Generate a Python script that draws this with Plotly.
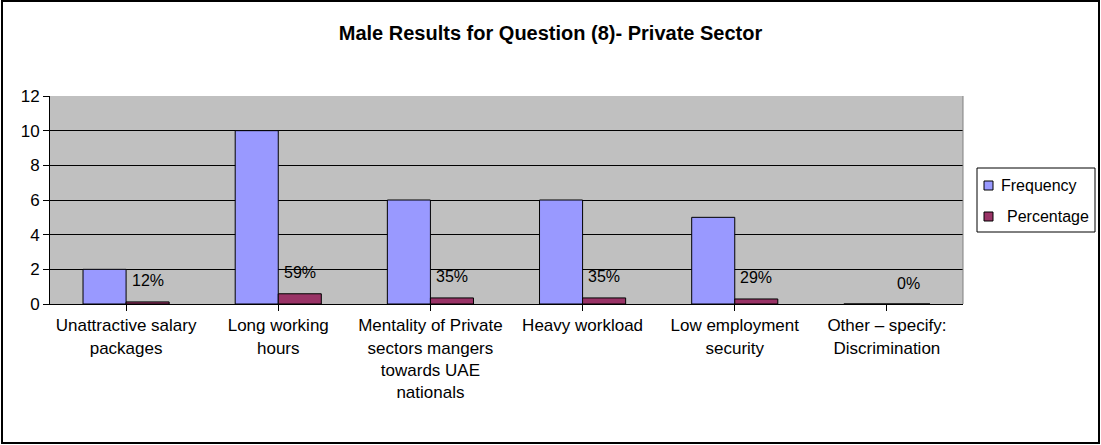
import plotly.graph_objects as go

# Data
categories = [
    "Unattractive salary<br>packages",
    "Long working<br>hours",
    "Mentality of Private<br>sectors mangers<br>towards UAE<br>nationals",
    "Heavy workload",
    "Low employment<br>security",
    "Other – specify:<br>Discrimination",
]
frequency = [2, 10, 6, 6, 5, 0]
percentage = [0.12, 0.59, 0.35, 0.35, 0.29, 0.0]
pct_labels = ["12%", "59%", "35%", "35%", "29%", "0%"]
y_ticks = [0, 2, 4, 6, 8, 10, 12]

W, H = 1101, 445
L, R, T, B = 50, 963, 96, 304  # plot area in pixels

FONT = "Liberation Sans, Arial, sans-serif"
FREQ_COLOR = "#9999FF"
PCT_COLOR = "#993366"


def px_x(px):
    return (px - L) / (R - L)


def px_y(py):
    return (B - py) / (B - T)


fig = go.Figure()

fig.add_trace(go.Bar(
    x=list(range(len(categories))),
    y=frequency,
    name="Frequency",
    marker=dict(color=FREQ_COLOR, line=dict(color="black", width=1)),
))
fig.add_trace(go.Bar(
    x=list(range(len(categories))),
    y=percentage,
    name="Percentage",
    marker=dict(color=PCT_COLOR, line=dict(color="black", width=1)),
))

# Percentage labels above the percentage bars
for i, (v, lab) in enumerate(zip(percentage, pct_labels)):
    fig.add_annotation(
        x=i + 0.1415, y=v, xref="x", yref="y",
        text=lab, showarrow=False, yanchor="middle", yshift=21,
        font=dict(family=FONT, size=16, color="black"),
    )

# Outer chart border and right edge of plot area
fig.add_shape(type="rect", xref="paper", yref="paper",
              x0=px_x(2), x1=px_x(1099), y0=px_y(443), y1=px_y(1),
              line=dict(color="black", width=2), layer="above")
fig.add_shape(type="line", xref="paper", yref="paper",
              x0=1, x1=1, y0=0, y1=1,
              line=dict(color="#808080", width=1))

# Legend box (drawn by hand to get the Excel-like compact layout)
fig.add_shape(type="rect", xref="paper", yref="paper",
              x0=px_x(977), x1=px_x(1095), y0=px_y(232), y1=px_y(168),
              line=dict(color="black", width=1), fillcolor="white")
legend_items = [("Frequency", FREQ_COLOR, 185, 999),
                ("Percentage", PCT_COLOR, 216, 1005)]
for name, color, cy, tx in legend_items:
    fig.add_shape(type="rect", xref="paper", yref="paper",
                  x0=px_x(984), x1=px_x(993), y0=px_y(cy + 5), y1=px_y(cy - 4),
                  line=dict(color="black", width=1), fillcolor=color)
    fig.add_annotation(x=px_x(tx), y=px_y(cy), xref="paper", yref="paper",
                       text=name, showarrow=False, xanchor="left", yanchor="middle",
                       font=dict(family=FONT, size=16, color="black"))

fig.update_layout(
    width=W, height=H,
    autosize=False,
    margin=dict(l=L, r=W - R, t=T, b=H - B),
    paper_bgcolor="white",
    plot_bgcolor="#C0C0C0",
    barmode="group",
    bargap=0.434,
    bargroupgap=0,
    font=dict(family=FONT, size=17, color="black"),
    title=dict(
        text="<b>Male Results for Question (8)- Private Sector</b>",
        x=0.5, xref="container", y=1 - 33 / H, yanchor="middle",
        font=dict(family=FONT, size=20, color="black"),
    ),
    showlegend=False,
)

fig.update_xaxes(
    tickmode="array",
    tickvals=list(range(len(categories))),
    ticktext=categories,
    range=[-0.5, len(categories) - 0.5],
    showgrid=False,
    showline=True, linecolor="black", linewidth=1,
    ticks="outside", ticklen=6, tickcolor="black",
    tickson="boundaries",
    tickangle=0,
    tickfont=dict(family=FONT, size=17, color="black"),
    zeroline=False,
)

fig.update_yaxes(
    range=[0, 12],
    tickvals=y_ticks,
    showgrid=True, gridcolor="black", gridwidth=1,
    showline=True, linecolor="black", linewidth=1,
    ticks="outside", ticklen=6, tickcolor="black",
    tickfont=dict(family=FONT, size=17, color="black"),
    zeroline=False,
)

# page body has a default 8px margin; remove it so the figure sits at 0,0
fig.write_html("out.html", config={"displayModeBar": False},
               post_script="document.body.style.margin='0';")
